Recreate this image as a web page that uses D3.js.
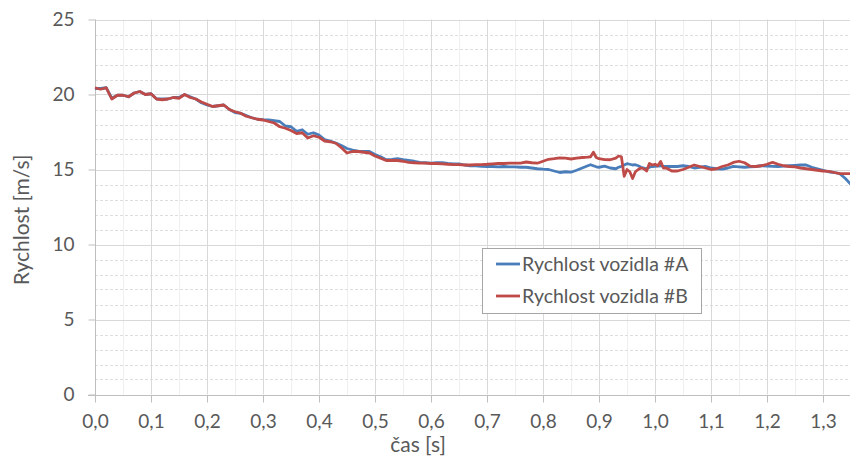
<!DOCTYPE html>
<html><head><meta charset="utf-8">
<script src="https://cdn.jsdelivr.net/npm/d3@7"></script>
<style>body{margin:0;background:#fff}svg{display:block}</style>
</head><body>
<script>
const time = [0,0.01,0.02,0.03,0.04,0.05,0.06,0.07,0.08,0.09,0.10,0.11,0.12,0.13,0.14,0.15,0.16,0.17,0.18,0.19,
0.20,0.21,0.22,0.23,0.24,0.25,0.26,0.27,0.28,0.29,0.30,0.31,0.32,0.33,0.34,0.35,0.36,0.37,0.38,0.39,
0.40,0.41,0.42,0.43,0.44,0.45,0.46,0.47,0.48,0.49,0.50,0.51,0.52,0.53,0.54,0.55,0.56,0.57,0.58,0.59,
0.60,0.61,0.62,0.63,0.64,0.65,0.66,0.67,0.68,0.69,0.70,0.71,0.72,0.73,0.74,0.75,0.76,0.77,0.78,0.79,
0.80,0.81,0.82,0.83,0.84,0.85,0.86,0.87,0.88,0.885,0.89,0.895,0.90,0.91,0.92,0.93,0.935,0.94,0.945,0.95,
0.955,0.96,0.965,0.97,0.975,0.98,0.985,0.99,0.995,1.00,1.005,1.01,1.015,1.02,1.03,1.04,1.05,1.06,1.07,1.08,
1.09,1.10,1.11,1.12,1.13,1.14,1.15,1.16,1.17,1.18,1.19,1.20,1.21,1.22,1.23,1.24,1.25,1.26,1.27,1.28,
1.29,1.30,1.31,1.32,1.33,1.34,1.35];

const speedA = [20.4,20.4,20.45,19.75,19.95,19.95,19.85,20.1,20.2,20.0,20.05,19.7,19.7,19.7,19.8,19.8,20.0,19.85,19.7,19.45,
19.3,19.2,19.25,19.3,19.0,18.8,18.75,18.6,18.45,18.35,18.32,18.3,18.25,18.2,17.9,17.85,17.55,17.65,17.35,17.45,
17.3,17.0,16.9,16.77,16.6,16.4,16.3,16.22,16.2,16.2,16.0,15.85,15.65,15.68,15.72,15.65,15.6,15.55,15.47,15.45,
15.43,15.45,15.45,15.4,15.38,15.38,15.3,15.25,15.25,15.21,15.2,15.2,15.18,15.2,15.17,15.17,15.15,15.15,15.1,15.05,
15.02,15.0,14.9,14.8,14.85,14.82,14.95,15.1,15.25,15.32,15.25,15.18,15.15,15.22,15.1,15.05,15.15,15.21,15.3,15.39,
15.35,15.3,15.32,15.25,15.15,15.1,15.05,15.15,15.2,15.21,15.22,15.25,15.2,15.2,15.21,15.2,15.25,15.2,15.1,15.15,
15.21,15.1,15.05,15.03,15.1,15.21,15.18,15.15,15.17,15.2,15.25,15.22,15.21,15.2,15.22,15.25,15.28,15.3,15.3,15.15,
15.05,14.95,14.85,14.8,14.72,14.4,14.0];

const speedB = [20.45,20.35,20.45,19.7,19.95,19.95,19.85,20.1,20.2,20.0,20.05,19.7,19.65,19.7,19.8,19.75,20.0,19.8,19.7,19.5,
19.35,19.2,19.25,19.3,19.0,18.85,18.75,18.55,18.45,18.35,18.3,18.2,18.1,17.85,17.75,17.6,17.4,17.45,17.1,17.25,
17.15,16.9,16.85,16.75,16.45,16.1,16.2,16.2,16.15,16.1,15.9,15.75,15.6,15.6,15.6,15.55,15.47,15.45,15.43,15.43,
15.4,15.4,15.38,15.35,15.33,15.32,15.3,15.3,15.32,15.33,15.35,15.38,15.4,15.4,15.42,15.43,15.43,15.5,15.45,15.42,
15.55,15.68,15.72,15.78,15.76,15.7,15.76,15.8,15.82,15.85,16.15,15.8,15.72,15.66,15.65,15.76,15.9,15.85,14.55,15.0,
14.85,14.4,14.85,15.0,15.1,15.05,14.9,15.4,15.3,15.35,15.25,15.54,15.1,15.1,14.9,14.9,15.0,15.15,15.3,15.2,
15.1,15.0,15.05,15.2,15.3,15.47,15.55,15.45,15.22,15.2,15.25,15.35,15.47,15.35,15.25,15.2,15.17,15.1,15.05,15.0,
14.95,14.9,14.88,14.8,14.72,14.72,14.72];

const seriesNames = ["Rychlost vozidla #A","Rychlost vozidla #B"];
const seriesColors = ["#4A7EBB","#BE4B48"];
const xTicks = d3.range(0, 14).map(i => i/10);
const yTicks = [0,5,10,15,20,25];

const W = 850, H = 459;
const svg = d3.select("body").append("svg").attr("width", W).attr("height", H);
const font = "Lato, 'Open Sans', sans-serif";
const txt = "#595959";

const x = d3.scaleLinear().domain([0, 1.35]).range([95, 851]);
const y = d3.scaleLinear().domain([0, 25]).range([394.5, 19.5]);

const grid = svg.append("g");
grid.selectAll("line.mv").data(d3.range(0, 28).map(i => i*0.05).filter((d,i)=> i%2===1))
  .join("line").attr("x1", d=>Math.round(x(d))+0.5).attr("x2", d=>Math.round(x(d))+0.5)
  .attr("y1", y(25)).attr("y2", y(0)).attr("stroke", "#efefef").attr("stroke-width", 1);
grid.selectAll("line.mh").data(d3.range(1, 25).filter(d => d%5 !== 0))
  .join("line").attr("x1", x(0)).attr("x2", W).attr("y1", d=>Math.round(y(d))+0.5).attr("y2", d=>Math.round(y(d))+0.5)
  .attr("stroke", "#dddddd").attr("stroke-width", 1).attr("stroke-dasharray", "3,2");
grid.selectAll("line.Mv").data(xTicks.slice(1))
  .join("line").attr("x1", d=>Math.round(x(d))+0.5).attr("x2", d=>Math.round(x(d))+0.5)
  .attr("y1", y(25)).attr("y2", y(0)).attr("stroke", "#d9d9d9").attr("stroke-width", 1);
grid.selectAll("line.Mh").data(yTicks.slice(1))
  .join("line").attr("x1", x(0)).attr("x2", W).attr("y1", d=>Math.round(y(d))+0.5).attr("y2", d=>Math.round(y(d))+0.5)
  .attr("stroke", "#d9d9d9").attr("stroke-width", 1);

const yAxis = d3.axisLeft(y).tickValues(yTicks).tickSize(7).tickPadding(14).tickFormat(d3.format("d"));
const gy = svg.append("g").attr("transform", `translate(${Math.round(x(0))+0.5},0)`).call(yAxis);
const xAxis = d3.axisBottom(x).tickValues(xTicks).tickSize(7).tickPadding(12)
  .tickFormat(d => d3.format(".1f")(d).replace(".", ","));
const gx = svg.append("g").attr("transform", `translate(0,${Math.round(y(0))+0.5})`).call(xAxis);
gx.select(".domain").remove();
gx.append("line").attr("x1", x(0)-7).attr("x2", W).attr("stroke", "#bfbfbf");
gy.select(".domain").attr("stroke", "#bfbfbf").attr("d", `M0,${y(25)}V${y(0)+7}`);
[gx, gy].forEach(g => {
  g.selectAll(".tick line").attr("stroke", "#bfbfbf");
  g.selectAll(".tick text").attr("fill", txt).style("font-family", font).style("font-size", "19px");
});

const line = d3.line().x((d,i) => x(time[i])).y(d => y(d)).curve(d3.curveLinear);
[speedA, speedB].forEach((s, k) => {
  svg.append("path").datum(s).attr("d", line).attr("fill", "none")
    .attr("stroke", seriesColors[k]).attr("stroke-width", 2.8).attr("stroke-linejoin", "round");
});

svg.append("text").attr("x", 418).attr("y", 452).attr("text-anchor", "middle")
  .attr("fill", txt).style("font-family", font).style("font-size", "21px").text("čas [s]");
svg.append("text").attr("transform", "translate(29,220) rotate(-90)").attr("text-anchor", "middle")
  .attr("fill", txt).style("font-family", font).style("font-size", "21px").text("Rychlost [m/s]");

const lg = svg.append("g");
lg.append("rect").attr("x", 482.5).attr("y", 248.5).attr("width", 219).attr("height", 65)
  .attr("fill", "#fff").attr("stroke", "#a6a6a6").attr("stroke-width", 1);
seriesNames.forEach((n, k) => {
  const cy = 264 + k*32;
  lg.append("line").attr("x1", 496).attr("x2", 520).attr("y1", cy).attr("y2", cy)
    .attr("stroke", seriesColors[k]).attr("stroke-width", 2.8);
  lg.append("text").attr("x", 522).attr("y", cy+7).attr("fill", txt)
    .style("font-family", font).style("font-size", "19.5px").text(n);
});
</script>
</body></html>
